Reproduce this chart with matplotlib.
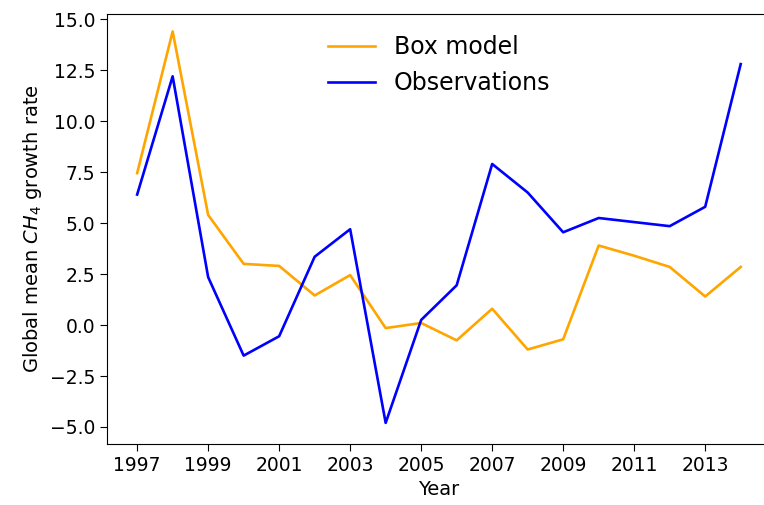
import matplotlib
matplotlib.use("Agg")
import matplotlib.pyplot as plt

years = list(range(1997, 2015))
box_model = [7.45, 14.4, 5.4, 3.0, 2.9, 1.45, 2.45, -0.15, 0.1, -0.75,
             0.8, -1.2, -0.7, 3.9, 3.4, 2.85, 1.4, 2.85]
observations = [6.4, 12.2, 2.35, -1.5, -0.55, 3.35, 4.7, -4.8, 0.25, 1.95,
                7.9, 6.5, 4.55, 5.25, 5.05, 4.85, 5.8, 12.8]
xticks = list(range(1997, 2015, 2))

fig = plt.figure(figsize=(7.64, 5.05), dpi=100)
ax = fig.add_axes([0.140, 0.121, 0.869, 0.851])
ax.plot(years, box_model, color="orange", lw=1.9, label="Box model")
ax.plot(years, observations, color="blue", lw=1.9, label="Observations")
ax.set_xticks(xticks)
ax.set_xlim(1996.15, 2014.85)
ax.set_ylim(-5.83, 15.25)
ax.spines["right"].set_visible(False)
ax.tick_params(labelsize=13.5, length=5)
ax.set_xlabel("Year", fontsize=14)
ax.set_ylabel("Global mean $CH_4$ growth rate", fontsize=14)
ax.legend(loc="upper center", frameon=False, fontsize=17)
fig.savefig("out.png", dpi=100)
